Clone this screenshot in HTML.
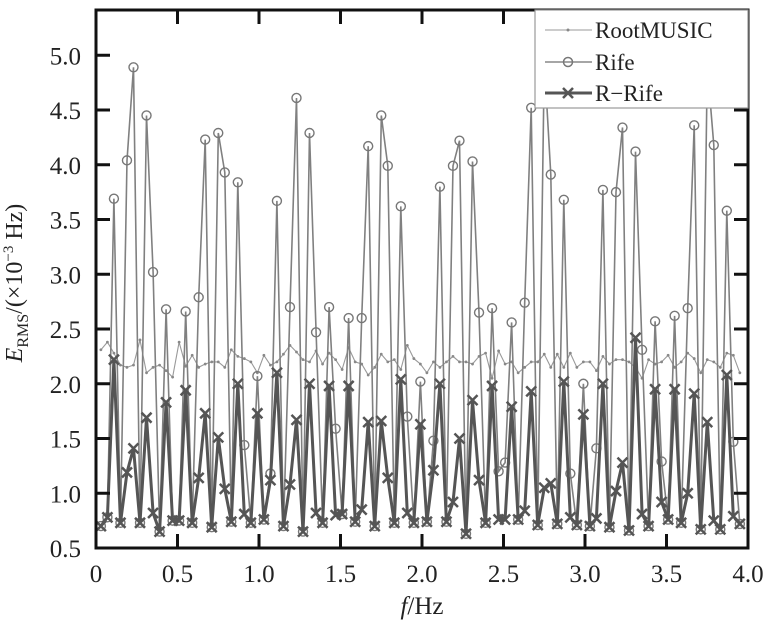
<!DOCTYPE html>
<html><head><meta charset="utf-8"><style>
body{margin:0;background:#fff;}
svg{display:block;font-family:"Liberation Serif",serif;}
</style></head><body>
<svg id="chart" width="776" height="640" viewBox="0 0 776 640">
<g id="plot"></g>
<g id="axes"></g>
<text x="22" y="283" transform="rotate(-90 22 283)" text-anchor="middle" font-size="24" fill="#222"><tspan font-style="italic">E</tspan><tspan font-size="16" dy="6">RMS</tspan><tspan dy="-6">/(×10</tspan><tspan font-size="15" dy="-9">−3</tspan><tspan dy="9"> Hz)</tspan></text>
<text x="422" y="614" text-anchor="middle" font-size="25" fill="#222"><tspan font-style="italic">f</tspan>/Hz</text>
<g>
<rect x="535" y="10" width="213" height="98" fill="#fff" stroke="#999" stroke-width="1.2"/>
<g>
<line x1="545" y1="30" x2="592" y2="30" stroke="#999" stroke-width="1"/><circle cx="568" cy="30" r="1.5" fill="#888"/>
<text x="595" y="38" font-size="23" fill="#222">RootMUSIC</text></g>
<g>
<line x1="545" y1="62" x2="592" y2="62" stroke="#888" stroke-width="1.6"/><circle cx="568" cy="62" r="4.5" fill="none" stroke="#777" stroke-width="1.5"/>
<text x="595" y="70" font-size="23" fill="#222">Rife</text></g>
<g>
<line x1="545" y1="93" x2="592" y2="93" stroke="#555" stroke-width="3"/><path d="M563 88l10 10M573 88l-10 10" stroke="#555" stroke-width="2.5"/>
<text x="595" y="101" font-size="23" fill="#222">R−Rife</text></g>
</g>
</svg>
<script>
const freqStart = 0.03, freqStep = 0.04;
const rRife = [0.70,0.78,2.22,0.73,1.19,1.41,0.73,1.69,0.82,0.65,1.83,0.75,0.75,1.94,0.73,1.14,1.73,0.69,1.51,1.04,0.74,2.0,0.81,0.73,1.73,0.76,1.12,2.1,0.70,1.08,1.67,0.65,2.0,0.82,0.73,1.98,0.80,0.81,1.98,0.74,0.85,1.65,0.70,1.66,1.14,0.73,2.04,0.82,0.73,1.63,0.74,1.21,2.0,0.74,0.92,1.5,0.63,1.85,1.12,0.73,1.98,0.76,0.76,1.79,0.76,0.84,1.93,0.71,1.05,1.09,0.72,2.02,0.78,0.71,1.72,0.70,0.77,2.0,0.69,1.02,1.28,0.66,2.42,0.81,0.70,1.95,0.92,0.76,1.95,0.73,1.0,1.91,0.67,1.65,0.75,0.67,2.08,0.79,0.72];
const rife = [0.70,0.78,3.69,0.73,4.04,4.89,0.73,4.45,3.02,0.65,2.68,0.75,0.75,2.66,0.73,2.79,4.23,0.69,4.29,3.93,0.74,3.84,1.44,0.73,2.07,0.76,1.18,3.67,0.70,2.70,4.61,0.65,4.29,2.47,0.73,2.70,1.59,0.81,2.60,0.74,2.60,4.17,0.70,4.45,3.99,0.73,3.62,1.70,0.73,2.02,0.74,1.48,3.80,0.74,3.99,4.22,0.63,4.03,2.65,0.73,2.69,1.20,1.28,2.56,0.76,2.74,4.52,0.71,4.95,3.91,0.72,3.68,1.18,0.71,2.0,0.70,1.41,3.77,0.69,3.75,4.34,0.66,4.12,2.31,0.70,2.57,1.29,0.76,2.62,0.73,2.69,4.36,0.67,4.90,4.18,0.67,3.58,1.47,0.72];
const rootMusic = [2.31,2.38,2.28,2.17,2.15,2.17,2.40,2.10,2.15,2.17,2.12,2.06,2.38,2.16,2.26,2.15,2.18,2.20,2.20,2.15,2.31,2.25,2.23,2.20,2.10,2.26,2.17,2.20,2.27,2.35,2.29,2.22,2.20,2.30,2.18,2.28,2.22,2.13,2.33,2.20,2.18,2.08,2.15,2.27,2.20,2.22,2.13,2.35,2.23,2.18,2.10,2.20,2.15,2.20,2.25,2.20,2.20,2.18,2.25,2.28,2.05,2.30,2.18,2.20,2.10,2.15,2.20,2.20,2.27,2.15,2.27,2.15,2.28,2.15,2.20,2.20,2.12,2.25,2.18,2.22,2.22,2.20,2.15,2.05,2.22,2.18,2.20,2.26,2.15,2.20,2.28,2.23,2.10,2.22,2.20,2.15,2.28,2.26,2.10];
const xTicks = [0,0.5,1.0,1.5,2.0,2.5,3.0,3.5,4.0];
const xTickLabels = ["0","0.5","1.0","1.5","2.0","2.5","3.0","3.5","4.0"];
const yTicks = [0.5,1.0,1.5,2.0,2.5,3.0,3.5,4.0,4.5,5.0];
const yTickLabels = ["0.5","1.0","1.5","2.0","2.5","3.0","3.5","4.0","4.5","5.0"];

const L=96,R=748,T=10,B=548;
const xs=f=>L+(f/4)*(R-L);
const ys=v=>B-(v-0.5)*109.5;
const NS="http://www.w3.org/2000/svg";
const plot=document.getElementById('plot'), axes=document.getElementById('axes');
function mk(tag,attrs,parent){const e=document.createElementNS(NS,tag);for(const k in attrs)e.setAttribute(k,attrs[k]);parent.appendChild(e);return e;}
const fx=i=>xs(freqStart+freqStep*i);

function pathOf(arr){return arr.map((v,i)=>(i?'L':'M')+fx(i).toFixed(1)+' '+ys(v).toFixed(1)).join('');}
const clip=mk('clipPath',{id:'cp'},mk('defs',{},document.getElementById('chart')));
mk('rect',{x:L,y:T,width:R-L,height:B-T},clip);
plot.setAttribute('clip-path','url(#cp)');

const rmLine=mk('path',{d:pathOf(rootMusic),fill:'none',stroke:'#999','stroke-width':1.1},plot);


rootMusic.forEach((v,i)=>{const c=mk('circle',{cx:fx(i),cy:ys(v),r:1.4,fill:'#888'},plot);

});

const rifeLine=mk('path',{d:pathOf(rife),fill:'none',stroke:'#808080','stroke-width':1.6},plot);


rife.forEach((v,i)=>{const c=mk('circle',{cx:fx(i),cy:ys(v),r:4.5,fill:'none',stroke:'#777','stroke-width':1.4},plot);

});

const rrLine=mk('path',{d:pathOf(rRife),fill:'none',stroke:'#555','stroke-width':3,'stroke-linejoin':'round'},plot);


rRife.forEach((v,i)=>{const x=fx(i),y=ys(v);const p=mk('path',{d:`M${x-5} ${y-5}L${x+5} ${y+5}M${x+5} ${y-5}L${x-5} ${y+5}`,stroke:'#555','stroke-width':2.5},plot);

});

const frame=mk('rect',{x:L,y:T,width:R-L,height:B-T,fill:'none',stroke:'#111','stroke-width':3},axes);


xTicks.forEach((t,i)=>{const x=xs(t);
 if(i>0&&i<xTicks.length-1){mk('line',{x1:x,y1:B,x2:x,y2:B-14,stroke:'#111','stroke-width':3},axes);mk('line',{x1:x,y1:T,x2:x,y2:T+14,stroke:'#111','stroke-width':3},axes);}
 const tx=mk('text',{x:x,y:582,'text-anchor':'middle','font-size':25,fill:'#222'},axes);tx.textContent=xTickLabels[i];
 
 });
yTicks.forEach((t,i)=>{const y=ys(t);
 if(i>0){mk('line',{x1:L,y1:y,x2:L+14,y2:y,stroke:'#111','stroke-width':3},axes);mk('line',{x1:R,y1:y,x2:R-14,y2:y,stroke:'#111','stroke-width':3},axes);}
 const tx=mk('text',{x:81,y:y+9,'text-anchor':'end','font-size':25,fill:'#222'},axes);tx.textContent=yTickLabels[i];
 
 });
</script>
</body></html>
